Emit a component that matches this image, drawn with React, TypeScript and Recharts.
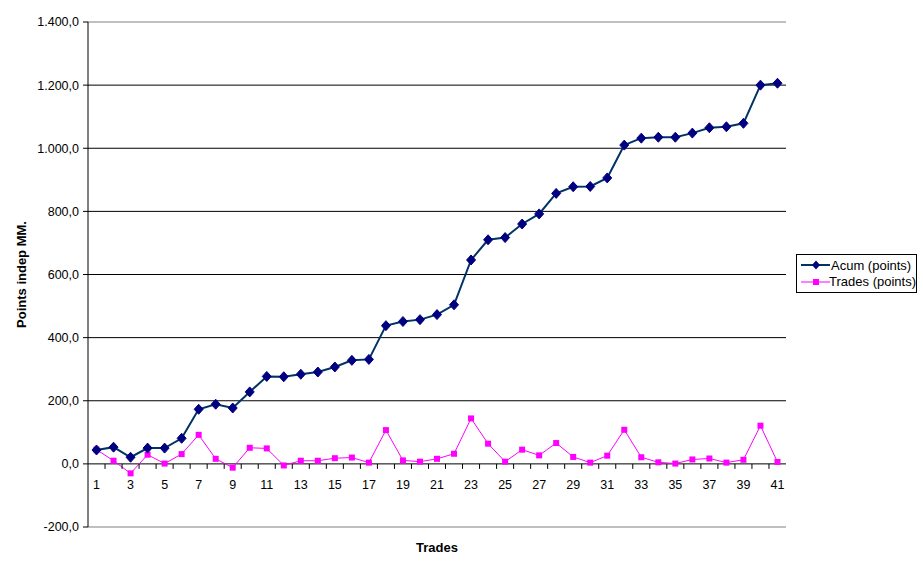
import React from "react"
import { LineChart, Line, XAxis, YAxis, CartesianGrid } from "recharts"

const trades = Array.from({ length: 41 }, (_, i) => String(i + 1))

const acumPoints = [
  44, 53, 21, 50, 50, 81, 173, 189, 177, 228, 277, 276, 284, 291, 307, 328, 331, 438, 451, 457, 473,
  504, 646, 710, 717, 760, 792, 857, 878, 879, 906, 1010, 1032, 1035, 1035, 1048, 1065, 1068, 1079,
  1200, 1206,
]

const tradePoints = [
  45, 10, -30, 29, 1, 31, 92, 16, -12, 51, 49, -5, 10, 10, 18, 20, 4, 107, 11, 7, 16, 32, 144, 64, 7,
  45, 27, 66, 22, 4, 26, 108, 21, 5, 1, 14, 17, 4, 13, 121, 6,
]

const yTicks = [-200, 0, 200, 400, 600, 800, 1000, 1200, 1400]
const gridTicks = [0, 200, 400, 600, 800, 1000, 1200]
const borderTicks = [1400]

const seriesNames = { acum: "Acum (points)", trades: "Trades (points)" }

const data = trades.map((t, i) => ({ trade: t, acum: acumPoints[i], trades: tradePoints[i] }))

const W = 923
const H = 563
const margin = { top: 22, right: 137, bottom: 0, left: 0 }
const X_AXIS_H = 36
const PLOT_H = H - margin.top - X_AXIS_H
const PLOT_W = W - 88 - margin.right
const BAND = PLOT_W / trades.length
const ZERO_OFFSET = (PLOT_H * (0 - yTicks[0])) / (yTicks[yTicks.length - 1] - yTicks[0])

const font = "'Liberation Sans', Arial, sans-serif"

const fmt = (n: number) => {
  const s = Math.abs(n).toFixed(0).replace(/\B(?=(\d{3})+(?!\d))/g, ".")
  return (n < 0 ? "-" : "") + s + ",0"
}

const XTick = (props: any) => {
  const { x, payload, index } = props
  const zeroY = H - X_AXIS_H - ZERO_OFFSET
  return (
    <g>
      {index < trades.length - 1 && (
        <line x1={x + BAND / 2} x2={x + BAND / 2} y1={zeroY} y2={zeroY + 5} stroke="#000" />
      )}
      {index % 2 === 0 && (
        <text x={x} y={zeroY + 25} textAnchor="middle" fontSize={12.5} fontFamily={font} fill="#000">
          {payload.value}
        </text>
      )}
    </g>
  )
}

const Diamond = (props: any) => {
  const { cx, cy, index } = props
  if (cx == null || cy == null) return <g key={index} />
  return (
    <polygon
      key={`d-${index}`}
      points={`${cx},${cy - 5} ${cx + 4.5},${cy} ${cx},${cy + 5} ${cx - 4.5},${cy}`}
      fill="#000080"
      stroke="#000080"
    />
  )
}

const Square = (props: any) => {
  const { cx, cy, index } = props
  if (cx == null || cy == null) return <g key={index} />
  return <rect key={`s-${index}`} x={cx - 3} y={cy - 3} width={6} height={6} fill="#FF00FF" />
}

const LegendBox = () => (
  <div
    style={{
      position: "absolute",
      left: 796,
      top: 254,
      width: 119,
      height: 35,
      border: "1px solid #000",
      background: "#fff",
      fontFamily: font,
      fontSize: 13,
      paddingTop: 2,
      boxSizing: "content-box",
    }}
  >
    {[
      { name: seriesNames.acum, color: "#003366", w: 2, mark: "d" },
      { name: seriesNames.trades, color: "#FF00FF", w: 1, mark: "s" },
    ].map((e) => (
      <div key={e.name} style={{ display: "flex", alignItems: "center", height: 16.5, whiteSpace: "nowrap" }}>
        <svg width={34} height={12} style={{ marginLeft: 3 }}>
          <line x1={1} x2={30} y1={6} y2={6} stroke={e.color} strokeWidth={e.w} />
          {e.mark === "d" ? (
            <polygon points="16,1.5 20,6 16,10.5 12,6" fill="#000080" />
          ) : (
            <rect x={13} y={3} width={6} height={6} fill="#FF00FF" />
          )}
        </svg>
        <span style={{ marginLeft: -3 }}>{e.name}</span>
      </div>
    ))}
  </div>
)

export default function App() {
  return (
    <div style={{ position: "absolute", left: 0, top: 0, width: W, height: H, background: "#fff" }}>
      <LineChart width={W} height={H} data={data} margin={margin}>
        <CartesianGrid vertical={false} stroke="#000" horizontalValues={gridTicks} />
        <CartesianGrid vertical={false} stroke="#808080" horizontalValues={borderTicks} />
        <XAxis
          dataKey="trade"
          interval={0}
          tick={<XTick />}
          tickLine={false}
          tickSize={0}
          tickMargin={0}
          axisLine={{ stroke: "#808080" }}
          height={X_AXIS_H}
          padding={{ left: BAND / 2, right: BAND / 2 }}
          label={{
            content: (p: any) => {
              const vb = p.viewBox || {}
              return (
                <text
                  x={vb.x + vb.width / 2}
                  y={H - 11}
                  textAnchor="middle"
                  fontSize={13}
                  fontWeight="bold"
                  fontFamily={font}
                  fill="#000"
                >
                  Trades
                </text>
              )
            },
          }}
        />
        <YAxis
          domain={[yTicks[0], yTicks[yTicks.length - 1]]}
          ticks={yTicks}
          interval={0}
          tickFormatter={fmt}
          width={88}
          tickSize={5}
          tickMargin={4}
          axisLine={{ stroke: "#000" }}
          tickLine={{ stroke: "#000" }}
          tick={{ fontSize: 12.5, fontFamily: font, fill: "#000" }}
          label={{
            content: (p: any) => {
              const vb = p.viewBox || {}
              const cx = 21
              const cy = vb.y + vb.height / 2
              return (
                <text
                  x={cx}
                  y={cy}
                  transform={`rotate(-90 ${cx} ${cy})`}
                  textAnchor="middle"
                  dominantBaseline="central"
                  fontSize={13}
                  fontWeight="bold"
                  fontFamily={font}
                  fill="#000"
                >
                  Points indep MM.
                </text>
              )
            },
          }}
        />
        <YAxis
          yAxisId="right"
          orientation="right"
          width={0}
          tick={false}
          tickLine={false}
          axisLine={{ stroke: "#808080" }}
        />
        <Line
          dataKey="trades"
          name={seriesNames.trades}
          stroke="#FF00FF"
          strokeWidth={1}
          dot={Square}
          activeDot={false}
          isAnimationActive={false}
        />
        <Line
          dataKey="acum"
          name={seriesNames.acum}
          stroke="#003366"
          strokeWidth={2}
          dot={Diamond}
          activeDot={false}
          isAnimationActive={false}
        />
      </LineChart>
      <LegendBox />
    </div>
  )
}
